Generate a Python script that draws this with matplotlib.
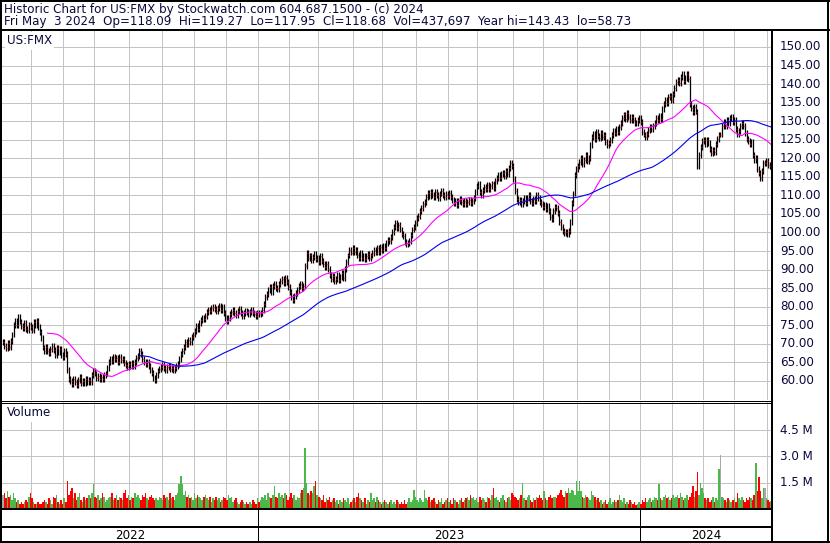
import numpy as np
import pandas as pd
import matplotlib
matplotlib.use("Agg")
import matplotlib.pyplot as plt
from matplotlib.lines import Line2D

plt.rcParams['font.family'] = ['DejaVu Sans']

W, H = 830, 543

# trading days per month, May 4 2022 .. May 3 2024
month_days = [19, 21, 20, 23, 21, 21, 21, 21,
              20, 19, 23, 19, 22, 21, 19, 23, 20, 22, 21, 20,
              21, 20, 20, 22, 3]
years = ['2022', '2023', '2024']
year_first_month = [0, 8, 20]

# daily closes
closes = [
    70.5, 69.5, 68.8, 70.2, 69.0, 70.8, 72.5, 75.0, 76.2, 75.0, 77.2, 76.0, 74.8, 74.2,
    75.5, 74.0, 73.8, 75.2, 74.5, 73.6, 75.8, 75.0, 76.2, 74.6, 73.2, 71.5, 69.0, 68.0,
    69.2, 68.0, 67.5, 68.5, 69.5, 68.2, 67.0, 68.8, 67.8, 68.5, 67.0, 66.5, 68.0, 67.2,
    63.0, 60.5, 60.0, 59.2, 60.5, 59.8, 59.0, 60.2, 61.0, 59.5, 60.0, 59.3, 60.6, 59.8,
    60.2, 59.6,
    61.5, 62.8, 62.0, 60.8, 61.2, 60.5, 61.0, 60.4, 61.5, 62.0, 63.5, 65.2, 66.0, 65.4,
    66.5, 65.8, 66.2, 65.0, 66.4, 65.6, 66.0, 64.8, 64.2, 63.8, 64.5, 63.9, 64.8, 64.0,
    65.0, 66.2, 66.8, 68.0, 67.2, 66.0, 65.0, 64.6, 65.2, 64.0, 63.0, 62.2, 60.8, 60.2,
    61.5, 62.8,
    63.2, 63.8, 64.2, 63.5, 63.0, 63.8, 64.0, 63.2, 63.6, 62.8, 63.4, 63.9, 64.5, 66.0,
    67.2, 68.0, 69.2, 70.5, 69.8, 71.0, 70.4, 71.8, 72.5, 73.5, 74.8, 74.0, 75.6, 76.5,
    77.0, 76.8, 77.5, 78.6, 79.2, 78.8, 79.6,
    80.0, 79.3, 78.8, 79.6, 80.2, 79.0, 79.8, 78.4, 77.0, 76.2, 77.0, 78.0, 78.5, 79.2,
    78.2, 77.8, 78.9, 79.5, 78.3, 77.6, 78.2, 78.8, 78.5, 77.9, 78.6, 79.0, 78.2, 78.0,
    77.5, 78.3, 78.0,
    78.2, 79.0, 80.8, 82.5, 83.5, 84.5, 85.2, 84.0, 85.6, 86.0, 85.0, 84.8, 86.2, 86.8,
    87.5, 86.5, 87.8, 86.6, 85.4, 84.0, 82.6, 81.8, 82.8, 83.8, 84.5, 85.6, 86.2, 85.0,
    85.5, 91.0, 94.5, 93.0,
    93.8, 92.6, 93.5, 94.2, 92.8, 93.2, 92.0, 93.6, 92.4, 91.5, 90.8, 91.6, 90.2, 88.6,
    87.5, 88.2, 86.8, 87.4, 88.5, 87.2, 88.0, 89.0, 87.6, 90.2, 92.0, 93.8, 95.2, 94.6,
    95.8, 94.8, 95.4,
    94.0, 93.2, 94.5, 93.0, 93.8, 92.8, 93.6, 94.2, 93.0, 93.8, 94.5, 95.2, 94.6, 95.8,
    94.8, 96.2, 95.4, 96.4, 95.8, 97.2, 98.0, 97.6, 98.8, 100.2, 101.5, 102.6, 101.2,
    102.0, 100.8, 99.6, 99.0, 97.5, 96.8, 97.2, 97.8,
    99.2, 100.8, 101.5, 102.6, 103.8, 104.5, 105.8, 106.5, 107.6, 108.2, 109.5, 110.6,
    109.8, 111.0, 110.2, 109.6, 110.8, 110.0, 109.4, 110.5, 111.2, 110.2, 109.6, 110.4,
    109.8, 110.6, 109.5, 108.8, 108.0, 108.6, 107.5, 108.4, 109.0, 108.2,
    107.8, 108.5, 107.6, 108.2, 108.8, 107.9, 108.4, 109.2, 111.0, 112.5, 113.2, 110.8,
    110.2, 111.5, 112.2, 111.6, 112.8, 111.8, 112.5, 113.2, 112.0, 113.8, 114.6, 115.5,
    114.8, 115.8, 116.0, 115.2, 116.5, 115.8, 117.5, 118.8, 118.0, 114.5, 111.2,
    109.0, 108.2, 108.8, 107.6, 108.5, 109.2, 108.0, 109.4, 110.2, 108.6, 108.0, 109.0,
    108.4, 110.0, 109.2, 108.2, 107.8, 106.8, 107.5, 106.4, 107.2, 105.8, 104.2, 103.5,
    105.8, 107.0, 106.5, 105.2, 102.8, 101.5, 100.5, 99.8, 100.2, 99.6, 100.4, 102.8,
    108.0, 110.5,
    115.5, 117.2, 118.0, 119.0, 120.2, 118.5, 119.6, 120.8, 119.2, 120.0, 123.5, 125.8,
    126.6, 125.2, 127.0, 126.0, 125.4, 126.8, 125.8, 126.4, 124.5, 123.6, 124.2, 125.0,
    126.2, 127.4, 126.8, 128.0, 127.2, 128.4, 129.6, 130.8, 131.8, 130.6, 132.2, 131.0,
    130.2, 131.2, 130.4, 129.6, 129.4, 130.2, 130.8, 129.8,
    127.2, 126.4, 125.8, 126.6, 127.6, 128.4, 127.8, 128.8, 129.6, 130.8, 130.2, 131.4,
    130.6, 133.2, 134.6, 135.8, 135.0, 136.4, 136.8, 135.8, 137.2, 139.0, 140.6, 141.2,
    140.2, 141.8, 142.6, 140.8, 141.6, 142.8, 141.4, 134.5, 133.6, 132.4, 133.8, 132.6,
    118.0, 121.0, 123.0, 124.6, 125.0, 123.8, 124.8, 124.0, 122.6, 121.4, 122.2, 121.8,
    123.8, 125.2, 126.4, 126.4, 128.8, 129.8, 128.6, 130.4, 129.6, 130.8, 131.0, 129.8,
    130.2, 127.8, 126.6, 127.4, 128.6, 129.6, 128.8, 126.8, 125.2, 124.6, 123.8, 124.4,
    121.0, 119.4, 120.2, 117.2, 116.0, 114.8, 116.6, 118.8, 118.8, 119.2, 118.2, 117.9,
    118.68,
]

# daily volume in units of 100,000 shares
volume_100k = [
    8, 9, 6, 10, 7, 8, 5, 9, 6, 4, 5, 3, 4, 3, 4, 5, 4, 7, 9, 6,
    4, 3, 3, 4, 3, 3, 4, 5, 4, 3, 6, 5, 3, 7, 6, 8, 4, 3, 5, 3,
    6, 4, 16, 8, 10, 12, 6, 9, 5, 7, 9, 5, 4, 7, 5, 6, 8, 6, 9, 14,
    7, 6, 8, 5, 6, 9, 7, 4, 5, 6, 7, 9, 5, 6, 8, 5, 7, 6, 5, 9,
    11, 6, 8, 5, 7, 6, 9, 7, 8, 6, 5, 8, 7, 9, 6, 5, 7, 8, 6, 5,
    6, 5, 7, 6, 5, 8, 6, 7, 5, 9, 6, 7, 5, 8, 9, 14, 19, 14, 8, 10,
    7, 8, 6, 7, 5, 9, 6, 8, 7, 6, 5, 7, 8, 6, 5, 7, 4, 6, 5, 7,
    5, 6, 4, 5, 7, 6, 5, 8, 6, 7, 4, 5, 6, 4, 3, 4, 5, 4, 3, 4,
    3, 4, 3, 5, 4, 3, 6, 4, 5, 7, 6, 8, 5, 9, 7, 6, 8, 13, 7, 6,
    9, 7, 8, 6, 9, 8, 5, 7, 9, 6, 8, 5, 7, 6, 9, 11, 12, 35, 15, 9,
    8, 10, 9, 13, 16, 8, 7, 6, 5, 8, 4, 6, 5, 7, 4, 5, 6, 4, 5, 3,
    5, 4, 6, 5, 4, 6, 3, 4, 5, 6, 4, 7, 9, 6, 5, 4, 6, 3, 5, 4,
    9, 5, 6, 4, 7, 5, 4, 3, 4, 5, 4, 3, 4, 5, 3, 4, 3, 5, 4, 3,
    4, 3, 5, 3, 4, 6, 4, 5, 11, 7, 5, 4, 6, 5, 4, 11, 6, 5, 7, 4,
    5, 6, 4, 3, 5, 4, 6, 3, 4, 5, 6, 4, 5, 3, 6, 5, 4, 3, 5, 6,
    4, 5, 6, 7, 5, 8, 6, 7, 5, 6, 4, 7, 5, 6, 5, 4, 7, 6, 5, 8,
    12, 6, 7, 5, 4, 6, 8, 5, 4, 6, 7, 5, 9, 8, 7, 6, 5, 6, 8, 15,
    6, 5, 7, 8, 5, 4, 6, 5, 7, 6, 8, 6, 5, 10, 6, 5, 7, 8, 6, 7,
    7, 6, 8, 9, 11, 8, 7, 10, 9, 12, 9, 11, 10, 8, 16, 10, 16, 10, 7, 6,
    8, 7, 6, 5, 10, 8, 7, 5, 6, 4, 5, 3, 4, 5, 3, 4, 6, 3, 4, 5,
    4, 5, 8, 5, 4, 6, 3, 4, 3, 5, 4, 3, 4, 2, 3, 4, 3, 5, 4, 6,
    4, 5, 6, 4, 5, 7, 6, 5, 14, 6, 5, 7, 8, 6, 7, 5, 6, 8, 6, 7,
    8, 6, 9, 7, 5, 6, 8, 5, 7, 9, 13, 7, 10, 21, 8, 15, 12, 9, 6, 5,
    6, 4, 5, 7, 4, 6, 5, 23, 31, 7, 6, 5, 4, 6, 5, 4, 5, 6, 4, 9,
    6, 5, 7, 5, 4, 6, 5, 7, 6, 5, 8, 26, 10, 18, 10, 6, 12, 12, 6, 5, 4, 4.4,
]

price_ticks = list(range(60, 151, 5))
volume_ticks = [1.5, 3.0, 4.5]
ma_fast, ma_slow = 30, 90

header1 = 'Historic Chart for US:FMX by Stockwatch.com 604.687.1500 - (c) 2024'
header2 = ('Fri May  3 2024  Op=118.09  Hi=119.27  Lo=117.95  Cl=118.68  '
           'Vol=437,697  Year hi=143.43  lo=58.73')

# ---------------------------------------------------------------
TEXT = '#0a0a3c'
GRID = '#c4c4c4'
bar_pad = 0.8
FS = 8.6

c = np.array(closes)
n = len(c)
idx = np.arange(n)
o = np.r_[c[0], c[:-1]]
hi = np.maximum(o, c) + bar_pad
lo = np.minimum(o, c) - bar_pad
ma1 = pd.Series(c).rolling(ma_fast).mean()
ma2 = pd.Series(c).rolling(ma_slow).mean()
vol = np.array(volume_100k) * 1e5
diff = np.r_[0.0, np.diff(c)]
vcolors = np.where(diff > 0, '#4cb84c', np.where(diff < 0, '#ff0000', '#a8a8a8'))

starts = np.cumsum([0] + month_days[:-1])
grid_x = starts[1:] - 0.5
year_x = [starts[m] - 0.5 for m in year_first_month]

fig = plt.figure(figsize=(W / 100, H / 100), dpi=100)


def px_axes(x0, y0, x1, y1):
    return fig.add_axes([x0 / W, 1 - y1 / H, (x1 - x0) / W, (y1 - y0) / H])


def px_line(xs, ys, lw):
    fig.add_artist(Line2D([x / W for x in xs], [1 - y / H for y in ys],
                          color='black', lw=lw * 0.72, transform=fig.transFigure,
                          solid_capstyle='butt', antialiased=False))


ax = px_axes(2, 31, 772, 400)
axv = px_axes(2, 402, 772, 509)
axb = px_axes(2, 509, 772, 542)
for a in (ax, axv, axb):
    a.set_xlim(-0.6, n - 0.4)
    a.set_xticks([])
    a.set_yticks([])
    for s in a.spines.values():
        s.set_visible(False)

# price panel
ax.set_ylim(54.85, 154.3)
for v in price_ticks:
    ax.axhline(v, color=GRID, lw=0.72, zorder=0)
for x in grid_x:
    ax.axvline(x, color=GRID, lw=0.72, zorder=0)
ax.vlines(idx, lo, hi, colors='black', lw=0.9, zorder=3)
ax.hlines(c, idx + 0.25, idx + 0.8, colors='red', lw=0.8, zorder=3.5)
ax.plot(idx, ma1, color='#ff00ff', lw=0.8, zorder=4)
ax.plot(idx, ma2, color='#0000ee', lw=0.8, zorder=4)
for v in price_ticks:
    ax.text(1 + 8 / 770, v, f'{v:.2f}', transform=ax.get_yaxis_transform(),
            va='center', ha='left', fontsize=FS, color=TEXT, clip_on=False)
ax.text(5 / 770, 1 - 10 / 369, 'US:FMX', transform=ax.transAxes, va='center',
        ha='left', fontsize=FS, color=TEXT, zorder=6,
        bbox=dict(facecolor='white', edgecolor='none', pad=1.5))

# volume panel
axv.set_ylim(0, 6.1e6)
for v in volume_ticks:
    axv.axhline(v * 1e6, color=GRID, lw=0.72, zorder=0)
    axv.text(1 + 8 / 770, v * 1e6, f'{v:.1f} M', transform=axv.get_yaxis_transform(),
             va='center', ha='left', fontsize=FS, color=TEXT, clip_on=False)
for x in grid_x:
    axv.axvline(x, color=GRID, lw=0.72, zorder=0)
axv.bar(idx, vol, width=1.0, color=vcolors, linewidth=0, antialiased=False, zorder=2)
axv.text(5 / 770, 1 - 11 / 107, 'Volume', transform=axv.transAxes, va='center',
         ha='left', fontsize=FS, color=TEXT, zorder=6,
         bbox=dict(facecolor='white', edgecolor='none', pad=1.5))

# date band
axb.set_ylim(0, 1)
for x in year_x[1:]:
    axb.axvline(x, color='black', lw=0.72)
edges = year_x + [n - 0.4]
for k, y in enumerate(years):
    axb.text((edges[k] + edges[k + 1]) / 2, 0.2, y, ha='center', va='center',
             fontsize=FS, color='black')

# frame lines
px_line([0, 830], [1, 1], 2)
px_line([1, 1], [0, 543], 2)
px_line([0, 830], [542, 542], 2)
px_line([828, 828], [0, 543], 2)
px_line([0, 830], [30, 30], 2)
px_line([0, 772], [400.5, 400.5], 1)
px_line([0, 772], [402.5, 402.5], 1)
px_line([0, 772], [509, 509], 2)
px_line([0, 772], [527, 527], 2)
px_line([772, 772], [30, 543], 2)

fig.text(4 / W, 1 - 9 / H, header1, va='center', ha='left', fontsize=FS, color=TEXT)
fig.text(4 / W, 1 - 21.5 / H, header2, va='center', ha='left', fontsize=FS, color=TEXT)

fig.savefig('out.png', dpi=100)
